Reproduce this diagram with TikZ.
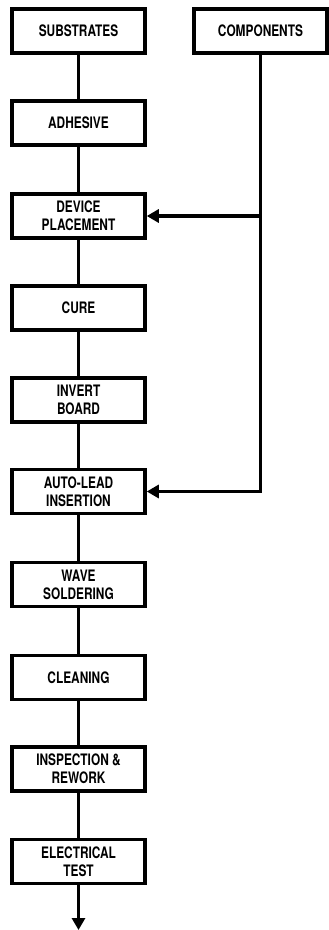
\documentclass[tikz,border=0pt]{standalone}
\usepackage{fontspec}
\setmainfont{TeX Gyre Heros}[FakeStretch=0.75]
\usetikzlibrary{arrows.meta}
\tikzset{
    box/.style={draw, line width=3.3pt, minimum height=1.32cm,
                minimum width=3.98cm, inner sep=2pt, align=center,
                font=\bfseries\fontsize{13.5}{15.5}\selectfont},
    link/.style={line width=2.7pt},
    flow/.style={link, -{Triangle[length=3.6mm, width=3.9mm]}},
}

\begin{document}
\begin{tikzpicture}

    \useasboundingbox (0,0) rectangle (9.87,-27.9);
    \node[box] (subs) at (2.355,-0.93) {SUBSTRATES};
    \node[box] (comp) at (7.815,-0.93) {COMPONENTS};
    \node[box] (glue) at (2.355,-3.69) {ADHESIVE};
    \node[box] (place) at (2.355,-6.48) {DEVICE\\PLACEMENT};
    \node[box] (cure) at (2.355,-9.24) {CURE};
    \node[box] (invert) at (2.355,-12.0) {INVERT\\BOARD};
    \node[box] (insert) at (2.355,-14.745) {AUTO-LEAD\\INSERTION};
    \node[box] (wave) at (2.355,-17.535) {WAVE\\SOLDERING};
    \node[box] (clean) at (2.355,-20.325) {CLEANING};
    \node[box] (inspect) at (2.355,-23.07) {INSPECTION \&\\REWORK};
    \node[box] (test) at (2.355,-25.845) {ELECTRICAL\\TEST};
    \coordinate (out) at (2.355,-27.9);
    \draw[link] (subs) -- (glue);
    \draw[link] (glue) -- (place);
    \draw[link] (place) -- (cure);
    \draw[link] (cure) -- (invert);
    \draw[link] (invert) -- (insert);
    \draw[link] (insert) -- (wave);
    \draw[link] (wave) -- (clean);
    \draw[link] (clean) -- (inspect);
    \draw[link] (inspect) -- (test);
    \draw[flow] (test) -- (out);
    \draw[flow] (comp.south) |- (place.east);
    \draw[flow] (comp.south) |- (insert.east);

\end{tikzpicture}
\end{document}
